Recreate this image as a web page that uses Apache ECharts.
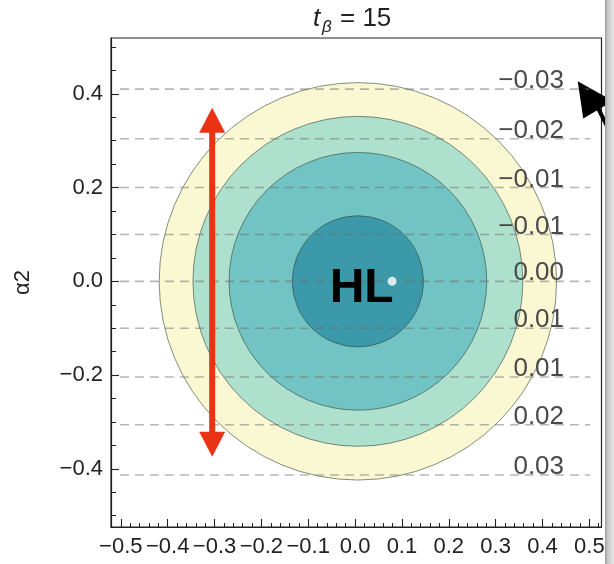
<!DOCTYPE html>
<html>
<head>
<meta charset="utf-8">
<script src="https://cdn.jsdelivr.net/npm/echarts@6/dist/echarts.min.js"></script>
<style>
  html, body { margin: 0; padding: 0; background: #fff; }
  #chart { width: 614px; height: 564px; }
</style>
</head>
<body>
<div id="chart"></div>
<script>
// ---------- data ----------
const xRange = [-0.521, 0.526];
const yRange = [-0.524, 0.519];
const xMajorTicks = [-0.5, -0.4, -0.3, -0.2, -0.1, 0.0, 0.1, 0.2, 0.3, 0.4, 0.5];
const yMajorTicks = [-0.4, -0.2, 0.0, 0.2, 0.4];
const yMinorTicks = [-0.5, -0.45, -0.35, -0.3, -0.25, -0.15, -0.1, -0.05, 0.05, 0.1, 0.15, 0.25, 0.3, 0.35, 0.45, 0.5];
const xMinorTicks = [];
for (let k = -26; k <= 26; k++) { if (k % 5 !== 0) xMinorTicks.push(k / 50); }

const circleCenter = [0.006, 0.0];
const circleRadii = [0.424, 0.352, 0.275, 0.14];          // outer -> inner

const dashLevelsY = [0.41, 0.304, 0.2, 0.1, 0.0, -0.1, -0.204, -0.306, -0.413];
const dashLabels = ['\u22120.03', '\u22120.02', '\u22120.01', '\u22120.01', '0.00', '0.01', '0.01', '0.02', '0.03'];
const dashXExtent = [-0.502, 0.502];
const dashLabelX = 0.446;

const arrowX = -0.305;
const arrowYEnds = [0.370, -0.374];

const dotPoint = [0.079, 0.0];
const hlPoint = [0.014, -0.016];
const hlText = 'HL';

const titleParts = ['t', '\u03b2', '= 15'];
const yAxisName = '\u03b12';

// ---------- styles ----------
const circleFills = ['#FAF8D2', '#ADE0CD', '#72C3C3', '#3B99A9'];
const FONT = '"Liberation Sans", Arial, sans-serif';
const AX = '#222';

function fmt(v) {
  const s = Math.abs(v).toFixed(1);
  return (v < -1e-9 ? '\u2212' : '') + s;
}

const chart = echarts.init(document.getElementById('chart'), null, { renderer: 'canvas' });

const option = {
  animation: false,
  backgroundColor: '#fff',
  grid: {
    left: 111, top: 38, width: 490.5, height: 489,
    show: true, borderColor: AX, borderWidth: 1.2, backgroundColor: '#fff',
    outerBoundsMode: 'none'
  },
  xAxis: [
    {
      type: 'value', min: xRange[0], max: xRange[1], position: 'bottom',
      axisLine: { show: true, onZero: false, lineStyle: { color: AX, width: 1.2 } },
      axisTick: { show: true, inside: true, length: 8, customValues: xMajorTicks, lineStyle: { color: AX, width: 1.1 } },
      axisLabel: { show: true, customValues: xMajorTicks, interval: 0, formatter: fmt, fontSize: 22, color: AX, margin: 9, fontFamily: FONT },
      splitLine: { show: false }
    },
    {
      type: 'value', min: xRange[0], max: xRange[1], position: 'bottom',
      axisLine: { show: false, onZero: false },
      axisTick: { show: true, inside: true, length: 4, customValues: xMinorTicks, lineStyle: { color: AX, width: 1 } },
      axisLabel: { show: false },
      splitLine: { show: false }
    }
  ],
  yAxis: [
    {
      type: 'value', min: yRange[0], max: yRange[1], position: 'left',
      name: yAxisName, nameLocation: 'middle', nameGap: 77, nameRotate: 90,
      nameTextStyle: { fontSize: 22, color: AX, fontFamily: FONT },
      axisLine: { show: true, onZero: false, lineStyle: { color: AX, width: 1.2 } },
      axisTick: { show: true, inside: true, length: 8, customValues: yMajorTicks, lineStyle: { color: AX, width: 1.1 } },
      axisLabel: { show: true, customValues: yMajorTicks, interval: 0, formatter: fmt, fontSize: 22, color: AX, margin: 8, fontFamily: FONT },
      splitLine: { show: false }
    },
    {
      type: 'value', min: yRange[0], max: yRange[1], position: 'left',
      axisLine: { show: false, onZero: false },
      axisTick: { show: true, inside: true, length: 5, customValues: yMinorTicks, lineStyle: { color: AX, width: 1 } },
      axisLabel: { show: false },
      splitLine: { show: false }
    }
  ],
  series: [
    {
      type: 'custom', name: 'contours', xAxisIndex: 0, yAxisIndex: 0, z: 2,
      data: circleRadii.map((r, i) => [circleCenter[0], circleCenter[1], r, i]),
      renderItem: function (params, api) {
        const c = api.coord([api.value(0), api.value(1)]);
        const sz = api.size([api.value(2), api.value(2)]);
        const r = (sz[0] + sz[1]) / 2;
        return {
          type: 'circle',
          shape: { cx: c[0], cy: c[1], r: r },
          style: { fill: circleFills[api.value(3)], stroke: 'rgba(50,70,60,0.6)', lineWidth: 1 }
        };
      }
    },
    {
      type: 'custom', name: 'levels', xAxisIndex: 0, yAxisIndex: 0, z: 3,
      data: dashLevelsY.map((y, i) => [y, i]),
      renderItem: function (params, api) {
        const y = api.value(0);
        const p1 = api.coord([dashXExtent[0], y]);
        const p2 = api.coord([dashXExtent[1], y]);
        const pl = api.coord([dashLabelX, y]);
        return {
          type: 'group',
          children: [
            {
              type: 'line',
              shape: { x1: p1[0], y1: p1[1], x2: p2[0], y2: p2[1] },
              style: { stroke: 'rgba(110,110,110,0.5)', lineWidth: 1.6, lineDash: [9, 6] }
            },
            {
              type: 'text',
              x: pl[0], y: pl[1] - 8,
              style: {
                text: dashLabels[api.value(1)], fill: '#4a4a4a',
                font: '26px ' + FONT, textAlign: 'right', textVerticalAlign: 'middle'
              }
            }
          ]
        };
      }
    },
    {
      type: 'custom', name: 'arrow', xAxisIndex: 0, yAxisIndex: 0, z: 4,
      data: [[arrowX, arrowYEnds[0], arrowYEnds[1]]],
      renderItem: function (params, api) {
        const top = api.coord([api.value(0), api.value(1)]);
        const bot = api.coord([api.value(0), api.value(2)]);
        const hl = 25, hw = 13;
        const col = '#EA3214';
        return {
          type: 'group',
          children: [
            { type: 'line', shape: { x1: top[0], y1: top[1] + hl - 2, x2: bot[0], y2: bot[1] - hl + 2 },
              style: { stroke: col, lineWidth: 6 } },
            { type: 'polygon', shape: { points: [[top[0], top[1]], [top[0] - hw, top[1] + hl], [top[0] + hw, top[1] + hl]] },
              style: { fill: col } },
            { type: 'polygon', shape: { points: [[bot[0], bot[1]], [bot[0] - hw, bot[1] - hl], [bot[0] + hw, bot[1] - hl]] },
              style: { fill: col } }
          ]
        };
      }
    },
    {
      type: 'custom', name: 'HL', xAxisIndex: 0, yAxisIndex: 0, z: 5,
      data: [hlPoint],
      renderItem: function (params, api) {
        const p = api.coord([api.value(0), api.value(1)]);
        return {
          type: 'text', x: p[0], y: p[1],
          style: { text: hlText, font: 'bold 48px ' + FONT, fill: '#000', textAlign: 'center', textVerticalAlign: 'middle' }
        };
      }
    },
    {
      type: 'scatter', name: 'dot', xAxisIndex: 0, yAxisIndex: 0, z: 6,
      data: [dotPoint], symbolSize: 9, itemStyle: { color: '#fff' },
      emphasis: { disabled: true }
    }
  ],
  graphic: [
    {
      type: 'group', z: 10,
      children: [
        { type: 'text', x: 313, y: 19, style: { text: titleParts[0], font: 'italic 26px ' + FONT, fill: '#222', textVerticalAlign: 'middle' } },
        { type: 'text', x: 322, y: 27, style: { text: titleParts[1], font: 'italic 17px ' + FONT, fill: '#222', textVerticalAlign: 'middle' } },
        { type: 'text', x: 340, y: 19, style: { text: titleParts[2], font: '26px ' + FONT, fill: '#222', textVerticalAlign: 'middle' } }
      ]
    },
    {
      type: 'rect', z: 1, shape: { x: 605, y: 0, width: 9, height: 564 },
      style: { fill: new echarts.graphic.LinearGradient(0, 0, 1, 0, [{ offset: 0, color: '#9a9a9a' }, { offset: 0.3, color: '#c8c8c8' }, { offset: 1, color: '#e8e8e8' }]) }
    },
    {
      type: 'group', z: 20,
      children: [
        { type: 'polygon', shape: { points: [[579, 83], [584, 117], [611, 101]] }, style: { fill: '#000', stroke: '#000', lineWidth: 2 } },
        { type: 'polyline', shape: { points: [[598, 108], [606, 124], [614, 143]] }, style: { stroke: '#000', lineWidth: 4 } }
      ]
    }
  ]
};

chart.setOption(option);
</script>
</body>
</html>
